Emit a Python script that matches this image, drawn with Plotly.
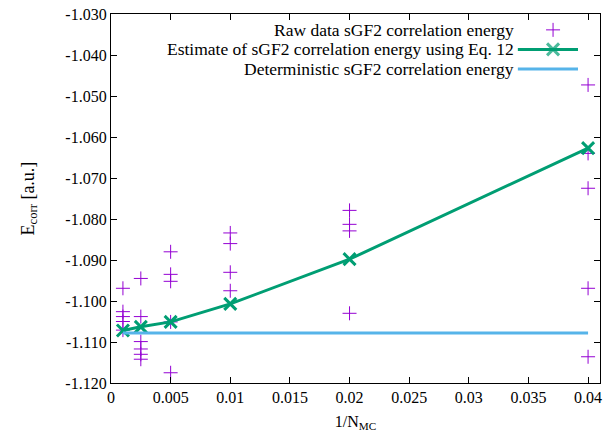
import plotly.graph_objects as go

# ---- data ----
n_mc = [1000, 400, 200, 100, 50, 25]
inv_n = [1.0 / n for n in n_mc]

raw_energy = [
    [-1.0969, -1.1026, -1.1038, -1.1050, -1.1071],          # N=1000
    [-1.0945, -1.1038, -1.1099, -1.1117, -1.1130, -1.1142],  # N=400
    [-1.0880, -1.0935, -1.0952, -1.1175, -1.1051],          # N=200
    [-1.0834, -1.0860, -1.0930, -1.0975],                   # N=100
    [-1.0779, -1.0813, -1.0829, -1.1030],                   # N=50
    [-1.0473, -1.0640, -1.0725, -1.0969, -1.1136],          # N=25
]
estimate = [-1.1072, -1.1063, -1.1051, -1.1007, -1.0898, -1.0627]
deterministic = -1.1078

legend_names = [
    "Raw data sGF2 correlation energy",
    "Estimate of sGF2 correlation energy using Eq. 12",
    "Deterministic sGF2 correlation energy",
]

y_ticks = [-1.030, -1.040, -1.050, -1.060, -1.070, -1.080, -1.090, -1.100, -1.110, -1.120]
y_tick_text = ["-1.030", "-1.040", "-1.050", "-1.060", "-1.070", "-1.080", "-1.090", "-1.100", "-1.110", "-1.120"]
x_ticks = [0, 0.005, 0.01, 0.015, 0.02, 0.025, 0.03, 0.035, 0.04]
x_tick_text = ["0", "0.005", "0.01", "0.015", "0.02", "0.025", "0.03", "0.035", "0.04"]

PURPLE = "#9400d3"
GREEN = "#009e73"
BLUE = "#56b4e9"
FONT = "Liberation Serif, 'Times New Roman', Times, serif"

raw_x = []
raw_y = []
for xv, vals in zip(inv_n, raw_energy):
    for v in vals:
        raw_x.append(xv)
        raw_y.append(v)

fig = go.Figure()
fig.add_trace(go.Scatter(
    x=raw_x, y=raw_y, mode="markers",
    marker=dict(symbol="cross-thin", size=10, line=dict(color=PURPLE, width=1), color=PURPLE),
    showlegend=False,
))
fig.add_trace(go.Scatter(
    x=inv_n, y=estimate, mode="lines+markers",
    line=dict(color=GREEN, width=3),
    marker=dict(symbol="x-thin", size=12, line=dict(color=GREEN, width=3), color=GREEN),
    showlegend=False,
))
fig.add_trace(go.Scatter(
    x=inv_n, y=[deterministic] * len(inv_n), mode="lines",
    line=dict(color=BLUE, width=3),
    showlegend=False,
))

# legend (gnuplot style: text right-aligned, key on the right)
key_x0, key_x1, key_xc = 0.832, 0.955, 0.904
text_x = 0.826
rows_y = [0.957, 0.904, 0.851]
fig.add_trace(go.Scatter(
    x=[key_xc], y=[rows_y[0]], xaxis="x2", yaxis="y2", mode="markers",
    marker=dict(symbol="cross-thin", size=10, line=dict(color=PURPLE, width=1), color=PURPLE),
    showlegend=False, hoverinfo="skip",
))
fig.add_trace(go.Scatter(
    x=[key_x0, key_xc, key_x1], y=[rows_y[1]] * 3, xaxis="x2", yaxis="y2",
    mode="lines+markers",
    line=dict(color=GREEN, width=3),
    marker=dict(symbol="x-thin", size=[0, 12, 0], line=dict(color=GREEN, width=3), color=GREEN),
    showlegend=False, hoverinfo="skip",
))
fig.add_trace(go.Scatter(
    x=[key_x0, key_x1], y=[rows_y[2]] * 2, xaxis="x2", yaxis="y2", mode="lines",
    line=dict(color=BLUE, width=3),
    showlegend=False, hoverinfo="skip",
))
for name, yv in zip(legend_names, rows_y):
    fig.add_annotation(
        text=name, x=text_x, y=yv, xref="paper", yref="paper",
        xanchor="right", yanchor="middle", showarrow=False, borderpad=0,
        font=dict(family=FONT, size=17.5, color="black"),
    )

axis_common = dict(
    showline=True, linecolor="black", linewidth=1.3, mirror="allticks",
    ticks="inside", ticklen=6, tickcolor="black", tickwidth=1,
    showgrid=False, zeroline=False, automargin=False,
    tickfont=dict(family=FONT, size=16, color="black"),
)
fig.update_layout(
    width=615, height=442,
    margin=dict(l=111, r=15, t=14, b=59),
    plot_bgcolor="white", paper_bgcolor="white",
    font=dict(family=FONT, size=16, color="black"),
    xaxis=dict(
        range=[0, 0.041], tickvals=x_ticks, ticktext=x_tick_text,
        title=dict(text="1/N<sub>MC</sub>", font=dict(family=FONT, size=16), standoff=10),
        **axis_common,
    ),
    yaxis=dict(
        range=[-1.120, -1.030], tickvals=y_ticks, ticktext=y_tick_text,
        title=dict(text="E<sub>corr</sub> [a.u.]", font=dict(family=FONT, size=18), standoff=26),
        **axis_common,
    ),
    xaxis2=dict(overlaying="x", range=[0, 1], visible=False, fixedrange=True),
    yaxis2=dict(overlaying="y", range=[0, 1], visible=False, fixedrange=True),
    showlegend=False,
)

fig.write_html(
    "out.html",
    config={"displayModeBar": False},
    post_script="document.body.style.margin='0';document.body.style.padding='0';",
)
